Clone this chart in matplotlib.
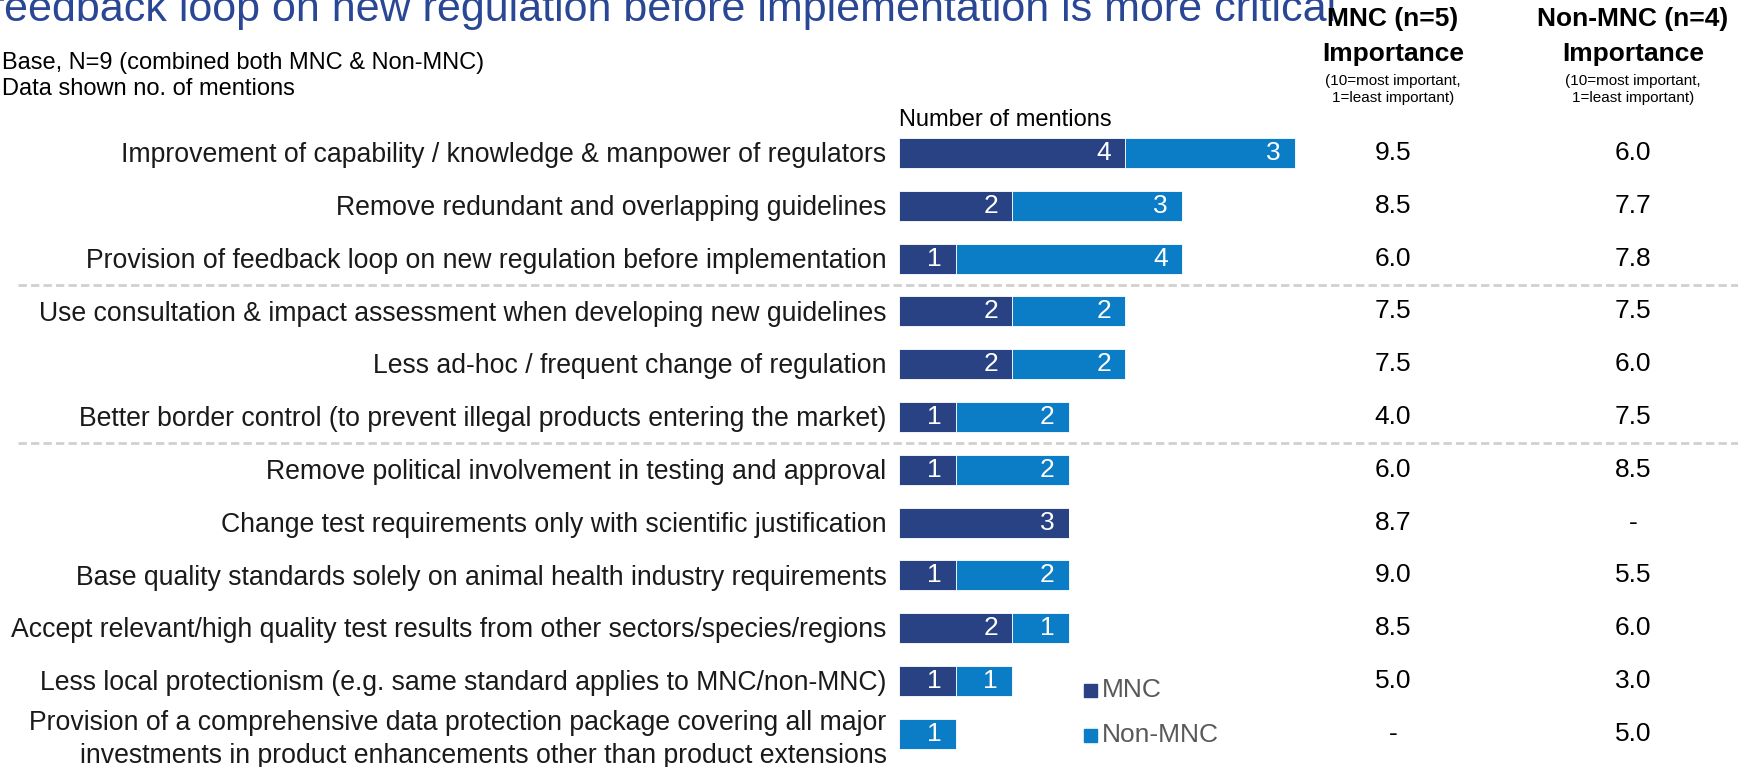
import matplotlib.pyplot as plt
from matplotlib.patches import Rectangle

plt.rcParams['font.family'] = ['Liberation Sans', 'DejaVu Sans']

# veriler
labels = [
    'Improvement of capability / knowledge & manpower of regulators',
    'Remove redundant and overlapping guidelines',
    'Provision of feedback loop on new regulation before implementation',
    'Use consultation & impact assessment when developing new guidelines',
    'Less ad-hoc / frequent change of regulation',
    'Better border control (to prevent illegal products entering the market)',
    'Remove political involvement in testing and approval',
    'Change test requirements only with scientific justification',
    'Base quality standards solely on animal health industry requirements',
    'Accept relevant/high quality test results from other sectors/species/regions',
    'Less local protectionism (e.g. same standard applies to MNC/non-MNC)',
    'Provision of a comprehensive data protection package covering all major\n'
    'investments in product enhancements other than product extensions',
]
mnc = [4, 2, 1, 2, 2, 1, 1, 3, 1, 2, 1, 0]
non_mnc = [3, 3, 4, 2, 2, 2, 2, 0, 2, 1, 1, 1]
mnc_imp = ['9.5', '8.5', '6.0', '7.5', '7.5', '4.0', '6.0', '8.7', '9.0', '8.5', '5.0', '-']
non_mnc_imp = ['6.0', '7.7', '7.8', '7.5', '6.0', '7.5', '8.5', '-', '5.5', '6.0', '3.0', '5.0']
groups_after = [2, 5]  # kesikli cizgi bu satirlardan sonra

c_mnc = '#284283'
c_non = '#0A7DC6'
W, H = 1738, 767

fig = plt.figure(figsize=(W / 100, H / 100), dpi=100)
ax = fig.add_axes([0, 0, 1, 1])
# bir birim = 56.6 piksel, bar baslangici x=899 piksel
unit = 56.6
ax.set_xlim(-899 / unit, (W - 899) / unit)
# satir araligi 52.8 piksel, ilk satir 153 piksel
row = 52.8
ax.set_ylim((H - 153) / row, -153 / row)
ax.axis('off')

ys = list(range(len(labels)))
ax.barh(ys, mnc, height=0.57, color=c_mnc, edgecolor='white', linewidth=0.6)
ax.barh(ys, non_mnc, left=mnc, height=0.57, color=c_non, edgecolor='white', linewidth=0.6)

pad = 0.25
for i in ys:
    if mnc[i] > 0:
        ax.text(mnc[i] - pad, i, str(mnc[i]), ha='right', va='center',
                color='white', fontsize=19)
    if non_mnc[i] > 0:
        ax.text(mnc[i] + non_mnc[i] - pad, i, str(non_mnc[i]), ha='right', va='center',
                color='white', fontsize=19)
    two_line = '\n' in labels[i]
    ax.text(-0.22, i + (0.1 if two_line else 0.04), labels[i], ha='right', va='center',
            multialignment='right', fontsize=19.2, color='#1a1a1a', linespacing=1.35)
    ax.text((1393 - 899) / unit, i, mnc_imp[i], ha='center', va='center', fontsize=19)
    ax.text((1633 - 899) / unit, i, non_mnc_imp[i], ha='center', va='center', fontsize=19)

for g in groups_after:
    ax.plot([-881 / unit, (W - 899) / unit], [g + 0.5, g + 0.5], color='#d0d0d0',
            linewidth=2, linestyle=(0, (3, 1.5)))

ax.text(0, -0.62, 'Number of mentions', ha='left', va='center', fontsize=17)

# legend
for k, (name, col) in enumerate([('MNC', c_mnc), ('Non-MNC', c_non)]):
    yk = 10.17 + k * 0.86
    ax.add_patch(Rectangle((1084 / unit - 899 / unit, yk - 0.12), 13 / unit, 0.25,
                           color=col))
    ax.text((1102 - 899) / unit, yk, name, ha='left', va='center', fontsize=19,
            color='#595959')

# baslik ve notlar
fig.text(-8 / W, 1 - 21 / H, 'feedback loop on new regulation before implementation is more critical',
         ha='left', va='baseline', fontsize=31, color='#2A4795')
fig.text(2 / W, 1 - 63 / H, 'Base, N=9 (combined both MNC & Non-MNC)', ha='left',
         va='center', fontsize=17)
fig.text(2 / W, 1 - 89 / H, 'Data shown no. of mentions', ha='left', va='center', fontsize=17)

for cx, head in [(1393, 'MNC (n=5)'), (1633, 'Non-MNC (n=4)')]:
    fig.text(cx / W, 1 - 19 / H, head, ha='center', va='center', fontsize=19, fontweight='bold')
    fig.text(cx / W, 1 - 54 / H, 'Importance', ha='center', va='center', fontsize=19,
             fontweight='bold')
    fig.text(cx / W, 1 - 81 / H, '(10=most important,', ha='center', va='center', fontsize=11)
    fig.text(cx / W, 1 - 98 / H, '1=least important)', ha='center', va='center', fontsize=11)

fig.savefig('out.png', dpi=100)
